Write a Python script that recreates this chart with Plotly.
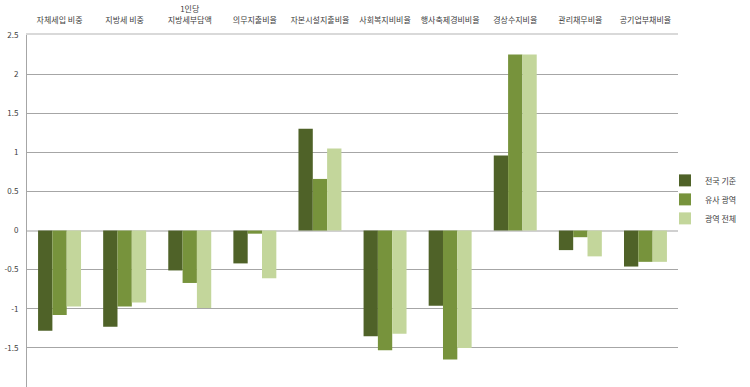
import plotly.graph_objects as go

categories = ["자체세입 비중", "지방세 비중", "1인당<br>지방세부담액", "의무지출비율", "자본시설지출비율",
              "사회복지비비율", "행사축제경비비율", "경상수지비율", "관리채무비율", "공기업부채비율"]
series_names = ["전국 기준", "유사 광역", "광역 전체"]
national = [-1.28, -1.23, -0.51, -0.42, 1.30, -1.35, -0.96, 0.96, -0.25, -0.46]
similar = [-1.08, -0.97, -0.67, -0.04, 0.66, -1.53, -1.65, 2.25, -0.085, -0.40]
all_metro = [-0.97, -0.92, -0.99, -0.61, 1.05, -1.32, -1.50, 2.25, -0.33, -0.40]
colors = ["#4F6228", "#77933C", "#C3D69B"]

fig = go.Figure()
for name, vals, c in zip(series_names, [national, similar, all_metro], colors):
    fig.add_trace(go.Bar(x=categories, y=vals, name=name, marker=dict(color=c, line=dict(width=0))))

font_family = "Noto Sans CJK KR, Noto Sans, sans-serif"
fig.update_layout(
    width=750, height=387,
    margin=dict(l=27, r=72, t=35, b=0, autoexpand=False),
    paper_bgcolor="white", plot_bgcolor="white",
    barmode="group", bargap=0.34, bargroupgap=0,
    font=dict(family=font_family, size=8, color="#404040"),
    legend=dict(x=0.98, xanchor="left", y=0.533, yanchor="middle",
                font=dict(size=8, color="#404040"), itemwidth=30,
                tracegroupgap=0, bgcolor="rgba(0,0,0,0)"),
    xaxis=dict(side="top", showgrid=False, showline=True, linecolor="#d9d9d9", linewidth=2,
               ticks="", tickangle=0, automargin=False, ticklabelstandoff=7,
               tickfont=dict(size=8, color="#404040"), fixedrange=True),
    yaxis=dict(range=[-2, 2.5], automargin=False,
               tickvals=[-2, -1.5, -1, -0.5, 0, 0.5, 1, 1.5, 2, 2.5],
               ticktext=["-2", "-1.5", "-1", "-0.5", "0", "0.5", "1", "1.5", "2", "2.5"],
               showgrid=True, gridcolor="#a6a6a6", gridwidth=1,
               zeroline=True, zerolinecolor="#d0d0d0", zerolinewidth=2,
               showline=True, linecolor="#a6a6a6", linewidth=1,
               ticks="", ticklabelstandoff=6,
               tickfont=dict(size=8, color="#404040")),
)
fig.write_html("out.html", config={"displayModeBar": False},
               post_script="document.body.style.margin='0';")
